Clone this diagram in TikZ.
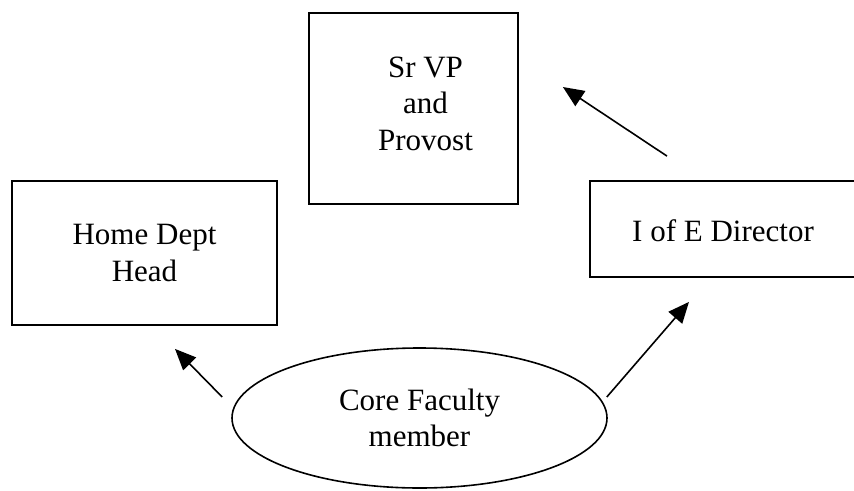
\documentclass[tikz,border=0pt]{standalone}
\usepackage{fontspec}
\setmainfont{Liberation Serif}
\usetikzlibrary{arrows.meta,shapes,calc,positioning}
\tikzset{box/.style={
            draw,
            line width=1.8pt,
            inner sep=0pt,
            align=center,
            font=\fontsize{31}{36.5}\selectfont
        },
        oval/.style={
            draw,
            ellipse,
            line width=1.6pt,
            inner sep=0pt,
            align=center,
            minimum width=375pt,
            minimum height=140pt,
            font=\fontsize{31}{36.5}\selectfont
        },
        link/.style={
            line width=1.6pt,
            -{Triangle[length=21pt,width=18pt]}
        }
    }
\begin{document}
\begin{tikzpicture}[x=1pt,y=-1pt]
        \useasboundingbox (0,0) rectangle (854,490);
        \node[box,minimum width=209pt,minimum height=191pt,
            label={[align=center,font=\fontsize{31}{36.5}\selectfont,xshift=12pt,yshift=5pt]center:Sr VP\\and\\Provost}]
            at (413.5,108.5) (provost) {};
        \node[box,minimum width=265pt,minimum height=144pt] at (144.5,253) (home) {Home Dept\\Head};
        \node[box,minimum width=266pt,minimum height=96pt,text depth=0pt] at (723,229) (ioe) {\raisebox{-4pt}{I of E Director}};
        \node[oval] at (419.5,418) (core) {Core Faculty\\member};
        \draw[link] ([shift={(-9,-21)}]core.west) -- ([shift={(30.5,23)}]home.south);
        \draw[link] ([shift={(-1,-21)}]core.east) -- ([shift={(-34,24)}]ioe.south);
        \draw[link] ([shift={(-56,-24)}]ioe.north) -- ([shift={(44,-21.5)}]provost.east);
    \end{tikzpicture}
\end{document}
